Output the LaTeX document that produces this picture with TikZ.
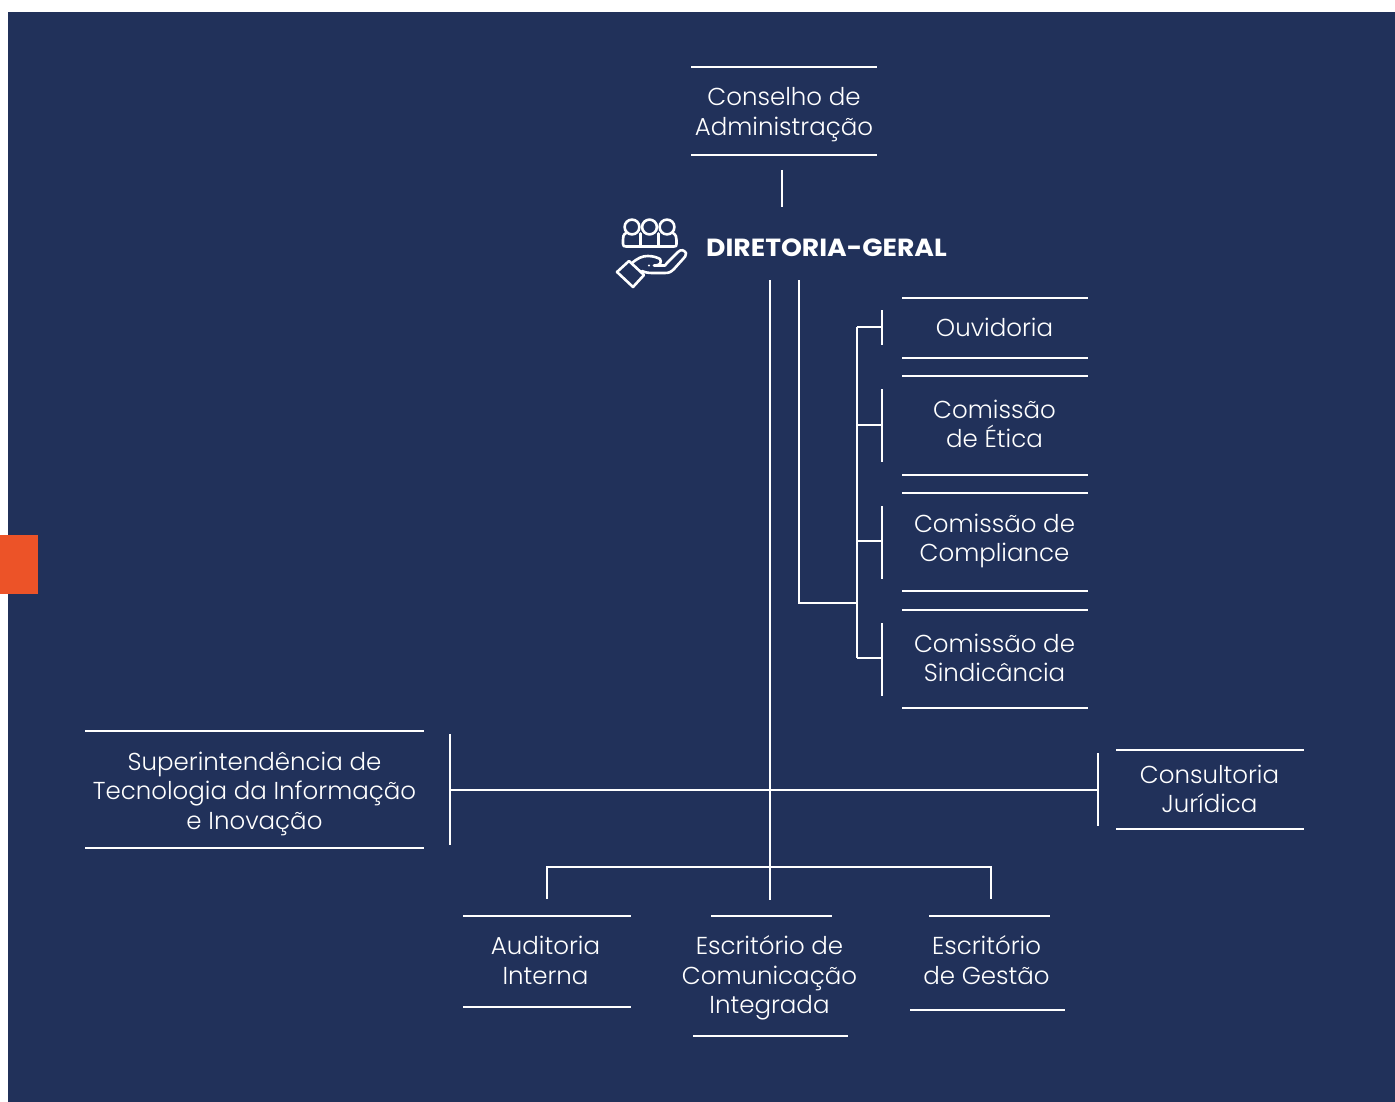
\documentclass[tikz,border=0pt]{standalone}
\usepackage{fontspec}
\setmainfont{Poppins}[UprightFont=* Light,BoldFont=* Bold,BoldFeatures={FakeStretch=1.075}]
\definecolor{navy}{HTML}{21315A}
\definecolor{accent}{HTML}{EC5328}
\tikzset{
  lab/.style={text=white,align=center,inner sep=0pt,font=\fontsize{24.5}{29.5}\selectfont},
  rule/.style={draw=white,line width=1.6pt},
  conn/.style={draw=white,line width=1.6pt},
  icon/.style={draw=white,line width=2.6pt,line join=round,line cap=round},
}
\begin{document}
\begin{tikzpicture}[x=1pt,y=-1pt]
\useasboundingbox (0,0) rectangle (1395,1102);
\fill[white] (0,0) rectangle (1395,1102);
\fill[navy] (8,12) rectangle (1395,1102);
\fill[accent] (0,535) rectangle (38,594);
% labels
\node[lab] (cons) at (784,114.5) {Conselho de\\Administração};
\node[lab,font=\fontsize{24.8}{29.5}\selectfont\bfseries,anchor=west] (dir) at (706,248) {DIRETORIA-GERAL};
\node[lab] (ouv) at (994.5,327) {Ouvidoria};
\node[lab] (etica) at (994.5,424) {Comissão\\de Ética};
\node[lab] (comp) at (994.5,541) {Comissão de\\Compliance};
\node[lab] (sind) at (994.5,658) {Comissão de\\Sindicância};
\node[lab] (sup) at (254.5,793.5) {Superintendência de\\Tecnologia da Informação\\e Inovação};
\node[lab] (cjur) at (1209.5,789) {Consultoria\\Jurídica};
\node[lab] (aud) at (545.5,960.5) {Auditoria\\Interna};
\node[lab] (ecom) at (769.5,978) {Escritório de\\Comunicação\\Integrada};
\node[lab] (eges) at (986.5,960) {Escritório\\de Gestão};
% rules above and below the labels
\foreach \xa/\xb/\ya/\yb in {691/877/67/155, 902/1088/298/358, 902/1088/376/475, 902/1088/493/591, 902/1088/610/708, 85/424/731/848, 1116/1304/750/829, 463/631/916/1007}{
  \draw[rule] (\xa,\ya) -- (\xb,\ya);
  \draw[rule] (\xa,\yb) -- (\xb,\yb);
}
\draw[rule] (711,916) -- (832,916);
\draw[rule] (693,1036) -- (848,1036);
\draw[rule] (929,916) -- (1050,916);
\draw[rule] (910,1010) -- (1065,1010);
% connector points
\coordinate (t1) at (782,170); \coordinate (t2) at (782,207);
\coordinate (m0) at (770,280); \coordinate (m1) at (770,900);
\coordinate (s0) at (799,280); \coordinate (s1) at (799,603); \coordinate (s2) at (857,603);
\coordinate (b1) at (857,327); \coordinate (b2) at (857,425); \coordinate (b3) at (857,541); \coordinate (b4) at (857,658);
\coordinate (k1) at (882,327); \coordinate (k2) at (882,425); \coordinate (k3) at (882,541); \coordinate (k4) at (882,658);
\coordinate (hl) at (450,790); \coordinate (hr) at (1098,790);
\coordinate (ba) at (547,867); \coordinate (bb) at (991,867);
\coordinate (bad) at (547,899); \coordinate (bbd) at (991,899);
% connectors
\draw[conn] (t1) -- (t2);
\draw[conn] (m0) -- (m1);
\draw[conn] (s0) -- (s1) -- (s2);
\draw[conn] (b1) -- (b4);
\draw[conn] (b1) -- (k1);
\draw[conn] (b2) -- (k2);
\draw[conn] (b3) -- (k3);
\draw[conn] (b4) -- (k4);
\draw[conn] (882,310) -- (882,345);
\draw[conn] (882,389) -- (882,462);
\draw[conn] (882,506) -- (882,579);
\draw[conn] (882,623) -- (882,696);
\draw[conn] (hl) -- (hr);
\draw[conn] (450,734) -- (450,845);
\draw[conn] (1098,753) -- (1098,826);
\draw[conn] (bad) -- (ba) -- (bb) -- (bbd);
% icon
\draw[icon] (632,227) circle (7.4);
\draw[icon] (649.5,227) circle (7.4);
\draw[icon] (667,227) circle (7.4);
\draw[icon] (626,233) .. controls (623,235) and (623,237) .. (623,240) -- (623,244) .. controls (623,246) and (624,246.5) .. (626,246.5) -- (674,246.5) .. controls (676,246.5) and (676.5,246) .. (676.5,244) -- (676.5,240) .. controls (676.5,237) and (676,235) .. (673,233);
\draw[icon] (640.5,233.5) -- (640.5,246.5);
\draw[icon] (658.5,233.5) -- (658.5,246.5);
\draw[icon] (617,272) -- (629,261) -- (644,275) -- (633,287) -- cycle;
\draw[icon] (632,263) .. controls (638,258) and (642,256) .. (648,256) .. controls (654,256) and (658,258) .. (660,259) .. controls (662,262) and (660,265) .. (656,265.5) -- (654,265.5);
\draw[icon] (667,263) -- (678,252) .. controls (681,249) and (684,250) .. (686,253) .. controls (686,256) and (685,257) .. (683,259) -- (674,269) .. controls (671,272) and (669,273) .. (665,273) -- (652,273) .. controls (649,273) and (645,272.5) .. (642,271);
\draw[icon] (656,265.5) -- (665,265.5) -- (667,263);
\fill[white] (649,265.5) circle (1.2);
\end{tikzpicture}
\end{document}
